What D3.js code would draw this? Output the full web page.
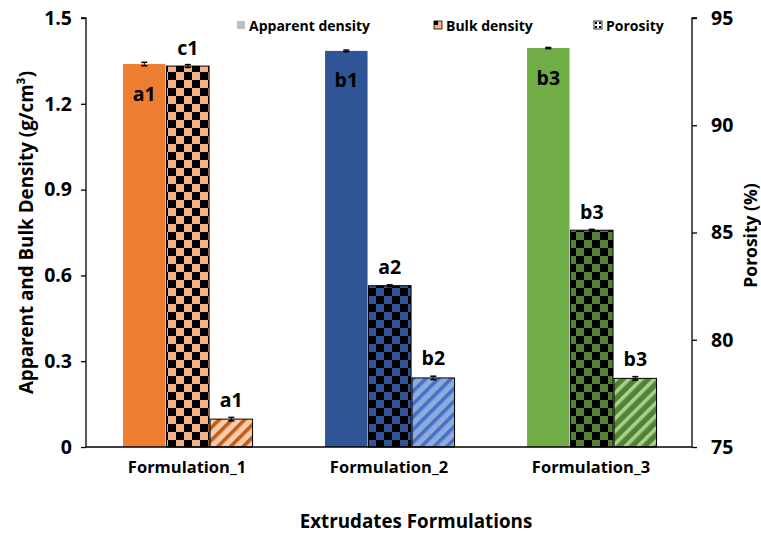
<!DOCTYPE html>
<html>
<head>
<meta charset="utf-8">
<script src="https://cdn.jsdelivr.net/npm/d3@7/dist/d3.min.js"></script>
<style>
  html, body { margin: 0; padding: 0; background: #fff; }
  svg text { font-family: "Open Sans", "Liberation Sans", sans-serif; font-weight: bold; }
</style>
</head>
<body>
<svg id="chart" width="761" height="533"></svg>
<script>
// Extrudate density and porosity by formulation
const formulations = ["Formulation_1", "Formulation_2", "Formulation_3"];
const apparentDensity = [1.339, 1.385, 1.395];
const apparentErr = [0.006, 0.003, 0.002];
const apparentLetters = ["a1", "b1", "b3"];
const bulkDensity = [1.332, 0.564, 0.758];
const bulkErr = [0.005, 0.003, 0.003];
const bulkLetters = ["c1", "a2", "b3"];
const porosity = [76.3, 78.22, 78.2];
const porosityErr = [0.08, 0.08, 0.08];
const porosityLetters = ["a1", "b2", "b3"];
const densityTicks = [0, 0.3, 0.6, 0.9, 1.2, 1.5];
const porosityTicks = [75, 80, 85, 90, 95];
const legendLabels = ["Apparent density", "Bulk density", "Porosity"];

// Per-formulation colour themes
const solidColors = ["#ED7D31", "#2F5597", "#70AD47"];
const checkerColors = ["#F4B183", "#2F5597", "#548235"];
const stripeBg = ["#F8CBAD", "#8FAADC", "#548235"];
const stripeFg = ["#C55A11", "#4472C4", "#A9D18E"];

const svg = d3.select("#chart");
const margin = { left: 86, right: 69, top: 18, bottom: 86 };
const W = 761, H = 533;
const x0 = margin.left, x1 = W - margin.right;
const yTop = margin.top, yBot = H - margin.bottom;

const x = d3.scaleBand().domain(formulations).range([x0, x1]).paddingInner(0).paddingOuter(0);
const yL = d3.scaleLinear().domain([0, 1.5]).range([yBot, yTop]);
const yR = d3.scaleLinear().domain([75, 95]).range([yBot, yTop]);

const barW = 42.5, gap = 1;

// Fill patterns
const defs = svg.append("defs");
formulations.forEach((f, i) => {
  const ck = defs.append("pattern").attr("id", "checker" + i)
    .attr("patternUnits", "userSpaceOnUse").attr("width", 16).attr("height", 16)
    .attr("x", 0).attr("y", 0);
  ck.append("rect").attr("width", 16).attr("height", 16).attr("fill", checkerColors[i]);
  ck.append("rect").attr("x", 0).attr("y", 0).attr("width", 8).attr("height", 8).attr("fill", "#000");
  ck.append("rect").attr("x", 8).attr("y", 8).attr("width", 8).attr("height", 8).attr("fill", "#000");

  const st = defs.append("pattern").attr("id", "stripe" + i)
    .attr("patternUnits", "userSpaceOnUse").attr("width", 9).attr("height", 9)
    .attr("patternTransform", "rotate(45)");
  st.append("rect").attr("width", 9).attr("height", 9).attr("fill", stripeBg[i]);
  st.append("rect").attr("x", 0).attr("width", 3.6).attr("height", 9).attr("fill", stripeFg[i]);
});

const legendChecker = defs.append("pattern").attr("id", "legendDots")
  .attr("patternUnits", "userSpaceOnUse").attr("width", 4).attr("height", 4);
legendChecker.append("rect").attr("width", 4).attr("height", 4).attr("fill", "#fff");
legendChecker.append("rect").attr("x", 1).attr("y", 1).attr("width", 2).attr("height", 2).attr("fill", "#000");

const g = svg.append("g");

function drawErr(cx, yTopV, yBotV) {
  g.append("line").attr("x1", cx).attr("x2", cx).attr("y1", yTopV).attr("y2", yBotV)
    .attr("stroke", "#000").attr("stroke-width", 1);
  [yTopV, yBotV].forEach(yy => g.append("line").attr("x1", cx - 3).attr("x2", cx + 3)
    .attr("y1", yy).attr("y2", yy).attr("stroke", "#000").attr("stroke-width", 1.5));
}

function label(txt, cx, cy) {
  g.append("text").attr("x", cx).attr("y", cy).attr("text-anchor", "middle")
    .attr("dominant-baseline", "central").attr("font-size", 19.5).attr("fill", "#000").text(txt);
}

formulations.forEach((f, i) => {
  const c = x(f) + x.bandwidth() / 2 + 0.8;
  const xa = c - 1.5 * barW - gap;
  const xb = c - 0.5 * barW;
  const xp = c + 0.5 * barW + gap;

  // Apparent density (solid)
  g.append("rect").attr("x", xa).attr("width", barW)
    .attr("y", yL(apparentDensity[i])).attr("height", yBot - yL(apparentDensity[i]))
    .attr("fill", solidColors[i]);
  drawErr(xa + barW / 2, yL(apparentDensity[i] + apparentErr[i]), yL(apparentDensity[i] - apparentErr[i]));

  // Bulk density (checker)
  g.append("rect").attr("x", xb).attr("width", barW)
    .attr("y", yL(bulkDensity[i])).attr("height", yBot - yL(bulkDensity[i]))
    .attr("fill", "url(#checker" + i + ")").attr("stroke", "#000").attr("stroke-width", 1);
  drawErr(xb + barW / 2, yL(bulkDensity[i] + bulkErr[i]), yL(bulkDensity[i] - bulkErr[i]));

  // Porosity (striped, right axis)
  g.append("rect").attr("x", xp).attr("width", barW)
    .attr("y", yR(porosity[i])).attr("height", yBot - yR(porosity[i]))
    .attr("fill", "url(#stripe" + i + ")").attr("stroke", "#000").attr("stroke-width", 1);
  drawErr(xp + barW / 2, yR(porosity[i] + porosityErr[i]), yR(porosity[i] - porosityErr[i]));

  // Significance letters
  label(apparentLetters[i], xa + barW / 2, yL(apparentDensity[i]) + 29);
  label(bulkLetters[i], xb + barW / 2, yL(bulkDensity[i]) - 19);
  label(porosityLetters[i], xp + barW / 2, yR(porosity[i]) - 20);
});

// Axes
const axisL = d3.axisLeft(yL).tickValues(densityTicks).tickSize(5).tickPadding(9)
  .tickFormat(d => d === 0 ? "0" : d3.format(".1f")(d));
const gL = svg.append("g").attr("transform", `translate(${x0},0)`).call(axisL);
const axisR = d3.axisRight(yR).tickValues(porosityTicks).tickSize(5).tickPadding(14);
const gR = svg.append("g").attr("transform", `translate(${x1},0)`).call(axisR);
[gL, gR].forEach(a => {
  a.select(".domain").attr("stroke", "#000").attr("stroke-width", 1.3);
  a.selectAll(".tick line").attr("stroke", "#000").attr("stroke-width", 1.3);
  a.selectAll(".tick text").attr("font-size", 19.5).attr("fill", "#000")
    .attr("font-family", "'Open Sans', sans-serif").attr("font-weight", "bold");
});
gL.select(".domain").attr("d", `M-5,${yTop}H0V${yBot}`);
gR.select(".domain").attr("d", `M5,${yTop}H0V${yBot}`);

// Baseline and category labels
const axisX = d3.axisBottom(x).tickSize(0).tickPadding(14);
const gX = svg.append("g").attr("transform", `translate(0,${yBot})`).call(axisX);
gX.select(".domain").attr("stroke", "#000").attr("stroke-width", 1.3).attr("d", `M${x0},0H${x1}`);
gX.selectAll(".tick text").attr("font-size", 16.5).attr("fill", "#000")
  .attr("font-family", "'Open Sans', sans-serif").attr("font-weight", "bold");

// Axis titles
svg.append("text").attr("transform", `translate(26,${(yTop + yBot) / 2}) rotate(-90)`)
  .attr("text-anchor", "middle").attr("dominant-baseline", "central").attr("font-size", 18.8)
  .text("Apparent and Bulk Density (g/cm³)");
svg.append("text").attr("transform", `translate(750,${(yTop + yBot) / 2 + 3}) rotate(-90)`)
  .attr("text-anchor", "middle").attr("dominant-baseline", "central").attr("font-size", 17.5)
  .text("Porosity (%)");
svg.append("text").attr("x", 416).attr("y", 521).attr("text-anchor", "middle")
  .attr("dominant-baseline", "central").attr("font-size", 18.8).text("Extrudates Formulations");

// Legend
const legendX = [237, 434, 594];
const legendFill = ["#BFBFBF", null, "url(#legendDots)"];
legendLabels.forEach((t, i) => {
  const lg = svg.append("g").attr("transform", `translate(${legendX[i]},21)`);
  if (i === 1) {
    lg.append("rect").attr("width", 8).attr("height", 8).attr("fill", "#F4B183").attr("stroke", "#000").attr("stroke-width", 0.8);
    lg.append("rect").attr("width", 4).attr("height", 4).attr("fill", "#000");
  } else {
    lg.append("rect").attr("width", 8).attr("height", 8).attr("fill", legendFill[i])
      .attr("stroke", i === 2 ? "#000" : "none").attr("stroke-width", 0.8);
  }
  lg.append("text").attr("x", 12).attr("y", 4).attr("dominant-baseline", "central")
    .attr("font-size", 14).text(t);
});
</script>
</body>
</html>
